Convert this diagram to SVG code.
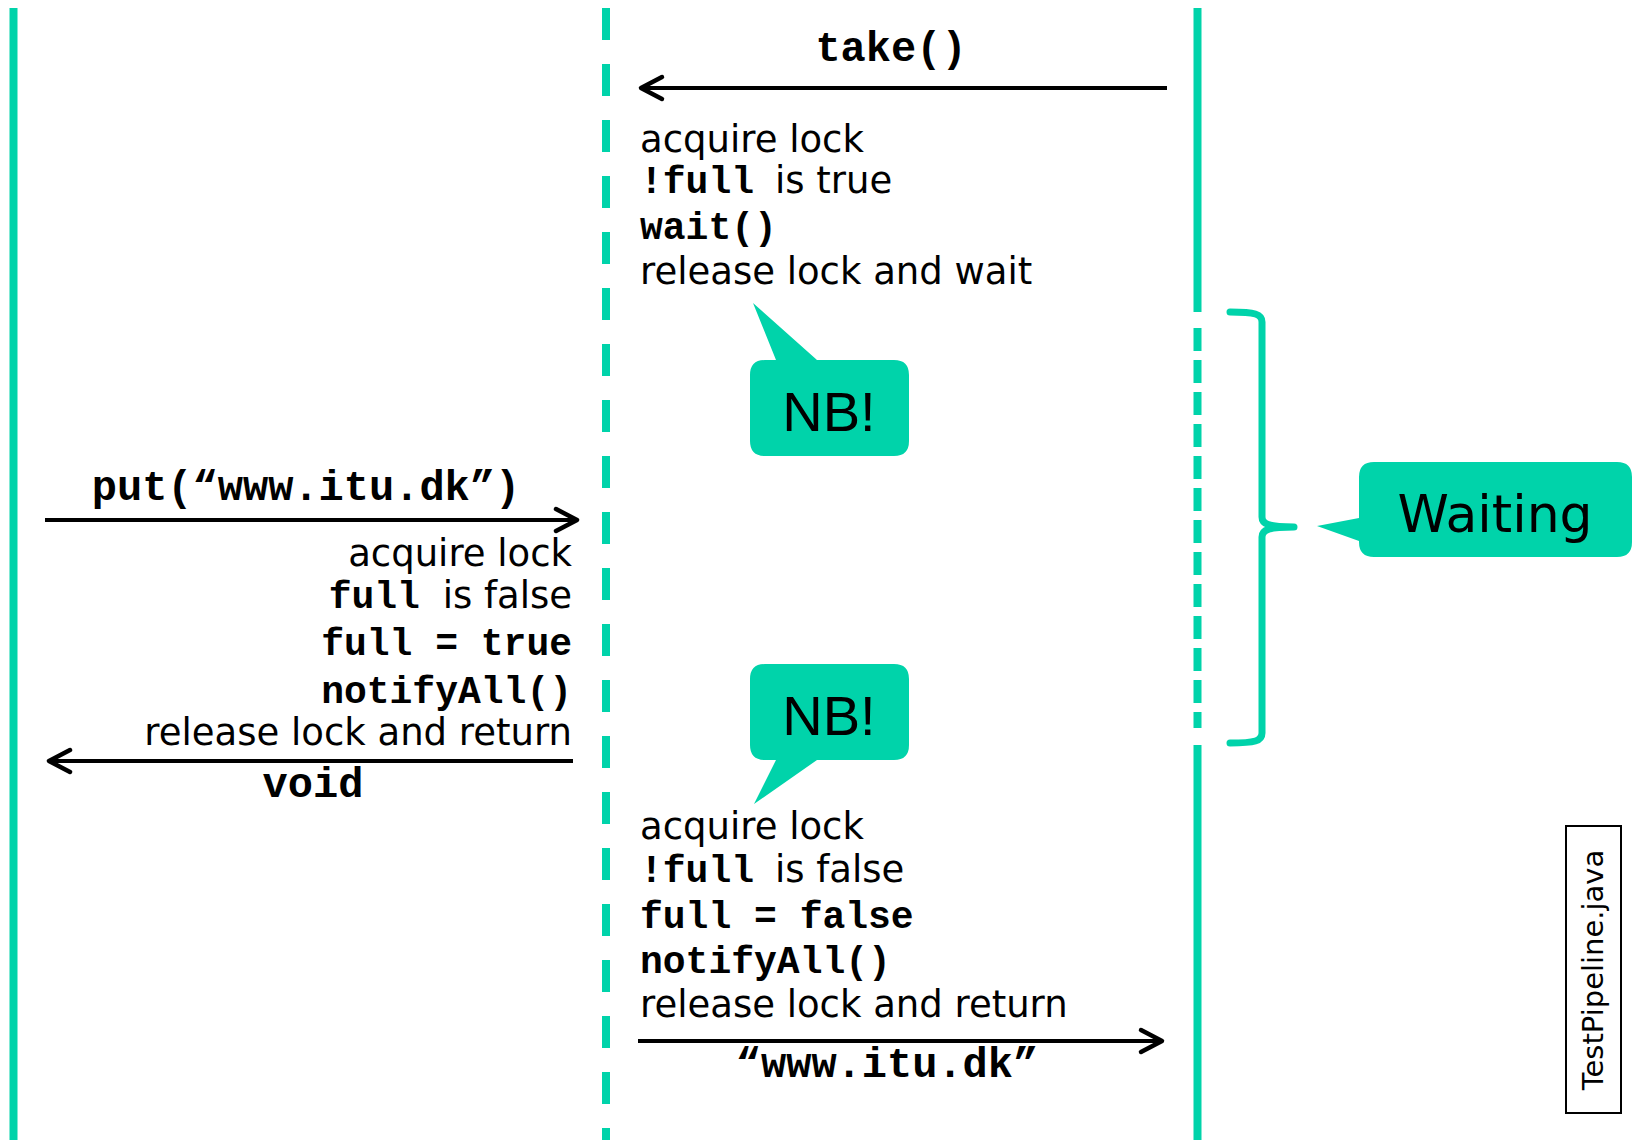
<svg xmlns="http://www.w3.org/2000/svg" width="1633" height="1140" viewBox="0 0 1633 1140">
<style>
.life{stroke:#00D3AA;stroke-width:8;fill:none}
.dash1{stroke-dasharray:32 24}
.dash2{stroke-dasharray:23 9}
.arrow{stroke:#000;stroke-width:4;fill:none}
.head{stroke:#000;stroke-width:4.5;fill:none;stroke-linecap:round;stroke-linejoin:round}
.s{font-family:"DejaVu Sans",Verdana,sans-serif;font-size:37px;fill:#000}
.m{font-family:"Liberation Mono","Courier New",monospace;font-weight:bold;font-size:38px;fill:#000}
.lbl{font-family:"Liberation Mono","Courier New",monospace;font-weight:bold;font-size:42px;fill:#000}
.callout{fill:#00D3AA}
.nb{font-family:"Liberation Sans",Arial,sans-serif;font-size:56px;fill:#000;text-anchor:middle}
</style>
<rect width="1633" height="1140" fill="#fff"/>

<g id="lifelines">
  <line class="life" x1="13.5" y1="8" x2="13.5" y2="1140"/>
  <line class="life dash1" x1="606" y1="8" x2="606" y2="1140"/>
  <line class="life" x1="1197.5" y1="8" x2="1197.5" y2="312"/>
  <line class="life dash2" x1="1197.5" y1="328" x2="1197.5" y2="728"/>
  <line class="life" x1="1197.5" y1="745" x2="1197.5" y2="1140"/>
</g>

<g id="connectors">
  <line class="arrow" x1="641" y1="88" x2="1167" y2="88"/>
  <polyline class="head" points="662,77 641,88 662,99"/>
  <line class="arrow" x1="45" y1="520" x2="577" y2="520"/>
  <polyline class="head" points="556,509 577,520 556,531"/>
  <line class="arrow" x1="49" y1="761" x2="573" y2="761"/>
  <polyline class="head" points="70,750 49,761 70,772"/>
  <line class="arrow" x1="638" y1="1041" x2="1162" y2="1041"/>
  <polyline class="head" points="1141,1030 1162,1041 1141,1052"/>
</g>

<g id="take-label"><text class="lbl" x="891" y="61" text-anchor="middle">take()</text></g>
<g id="put-label"><text class="lbl" x="306" y="500" text-anchor="middle">put(“www.itu.dk”)</text></g>
<g id="void-label"><text class="lbl" x="313" y="797" text-anchor="middle">void</text></g>
<g id="return-label"><text class="lbl" x="887" y="1077" text-anchor="middle">“www.itu.dk”</text></g>

<g id="take-steps">
  <text class="s" x="640" y="152">acquire lock</text>
  <text class="s" x="640" y="193"><tspan class="m">!full</tspan><tspan x="775">is true</tspan></text>
  <text class="m" x="640" y="239">wait()</text>
  <text class="s" x="640" y="284">release lock and wait</text>
</g>

<g id="put-steps" text-anchor="end">
  <text class="s" x="572" y="566">acquire lock</text>
  <text class="s" x="572" y="608"><tspan class="m">full </tspan>is false</text>
  <text class="m" x="572" y="655">full = true</text>
  <text class="m" x="572" y="703">notifyAll()</text>
  <text class="s" x="572" y="745">release lock and return</text>
</g>

<g id="take-resume-steps">
  <text class="s" x="640" y="839">acquire lock</text>
  <text class="s" x="640" y="882"><tspan class="m">!full</tspan><tspan x="775">is false</tspan></text>
  <text class="m" x="640" y="928">full = false</text>
  <text class="m" x="640" y="973">notifyAll()</text>
  <text class="s" x="640" y="1017">release lock and return</text>
</g>

<g id="nb1">
  <path class="callout" d="M765,360 L776,360 L753,303 L817,360 L894,360 Q909,360 909,375 L909,441 Q909,456 894,456 L765,456 Q750,456 750,441 L750,375 Q750,360 765,360 Z"/>
  <text class="nb" x="829" y="431">NB!</text>
</g>

<g id="nb2">
  <path class="callout" d="M765,664 L894,664 Q909,664 909,679 L909,745 Q909,760 894,760 L817,760 L754,804 L776,760 L765,760 Q750,760 750,745 L750,679 Q750,664 765,664 Z"/>
  <text class="nb" x="829" y="735">NB!</text>
</g>

<g id="brace">
  <path d="M1230,312 C1255,312 1262,314 1262,322 L1262,517 C1262,524 1268,527 1294,527 C1268,527 1262,530 1262,537 L1262,733 C1262,741 1255,743 1230,743" stroke="#00D3AA" stroke-width="7" fill="none" stroke-linecap="round" stroke-linejoin="round"/>
</g>

<g id="waiting">
  <path class="callout" d="M1374,462 L1617,462 Q1632,462 1632,477 L1632,542 Q1632,557 1617,557 L1374,557 Q1359,557 1359,542 L1359,541 L1317,526 L1359,518 L1359,477 Q1359,462 1374,462 Z"/>
  <text x="1495" y="532" text-anchor="middle" font-family="'DejaVu Sans',Verdana,sans-serif" font-size="52" fill="#000">Waiting</text>
</g>

<g id="file-label">
  <rect x="1566" y="826" width="55" height="287" fill="#fff" stroke="#000" stroke-width="2"/>
  <text transform="translate(1603,970) rotate(-90)" text-anchor="middle" font-family="'DejaVu Sans',Verdana,sans-serif" font-size="29" fill="#000">TestPipeline.java</text>
</g>
</svg>
